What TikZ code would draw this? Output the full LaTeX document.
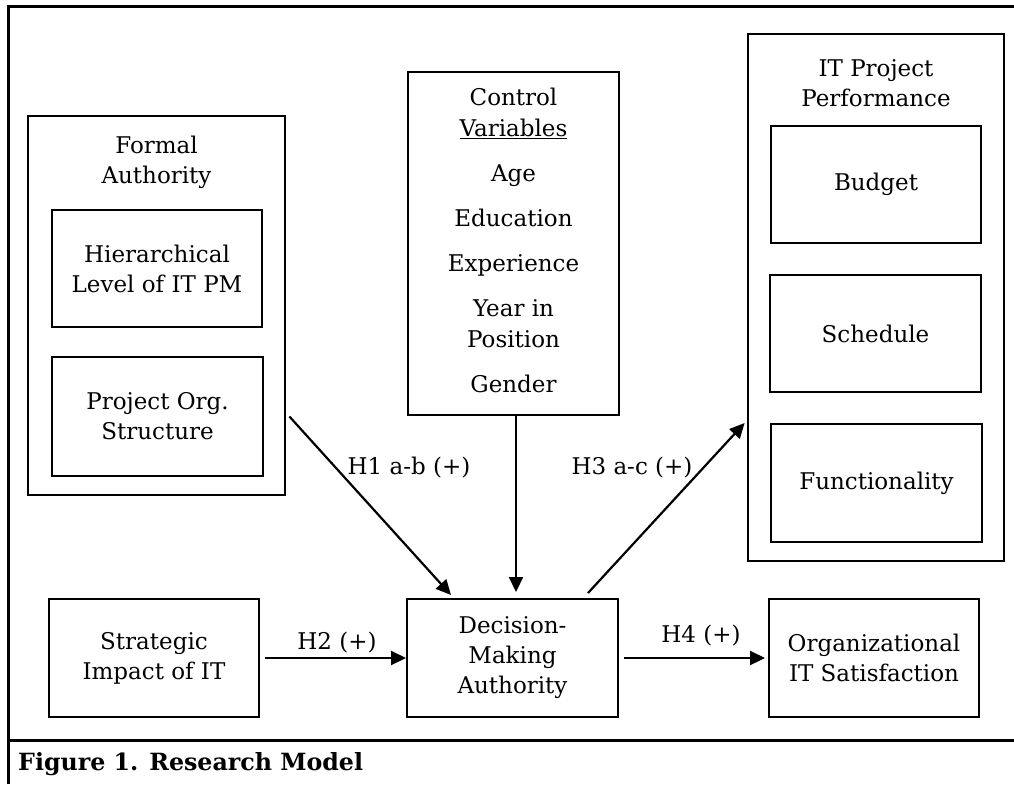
\documentclass[tikz,border=0pt]{standalone}
\usepackage{fontspec}
\setmainfont{DejaVu Serif}
\usetikzlibrary{arrows.meta, calc}

\begin{document}
\begin{tikzpicture}[x=1pt, y=-1pt,
    every node/.style={font=\fontsize{23}{30}\selectfont, align=center, inner sep=0pt},
    outerbox/.style={draw, line width=2.8pt},
    box/.style={draw, line width=2pt},
    hyp/.style={font=\fontsize{23}{30}\selectfont},
    arr/.style={-{Triangle[length=15pt, width=14pt]}, line width=2.2pt}]
      \useasboundingbox (0,0) rectangle (1014,784);

      % frame and caption row
      \draw[line width=3pt] (8,784) -- (8,7) -- (1014,7);
      \draw[line width=3pt] (8,740) -- (1014,740);
      \node[anchor=west, font=\bfseries\fontsize{23.7}{28}\selectfont] (cap) at (18,764) {Figure 1. Research Model};

      % left group
      \node[outerbox, minimum width=257pt, minimum height=379pt] (fa) at (156.5,305.5) {};
      \node (fatitle) at (156.5,162.5) {Formal\\Authority};
      \node[box, minimum width=210pt, minimum height=117pt] (hier) at (157,268.5) {Hierarchical\\Level of IT PM};
      \node[box, minimum width=211pt, minimum height=119pt] (porg) at (157.5,416.5) {Project Org.\\Structure};

      % control variables
      \node[box, minimum width=211pt, minimum height=343pt] (ctrl) at (513.5,243.5) {};
      \node[font=\fontsize{23}{31}\selectfont] (ctrltext) at (513.5,240)
        {Control\\\underline{Variables}\\[14pt] Age\\[14pt] Education\\[14pt] Experience\\[14pt] Year in\\Position\\[14pt] Gender};

      % right group
      \node[outerbox, minimum width=256pt, minimum height=527pt] (perf) at (876,297.5) {};
      \node (perftitle) at (876,83) {IT Project\\Performance};
      \node[box, minimum width=210pt, minimum height=117pt] (bud) at (876,184.5) {Budget};
      \node[box, minimum width=211pt, minimum height=117pt] (sch) at (875.5,333.5) {Schedule};
      \node[box, minimum width=211pt, minimum height=118pt] (fun) at (876.5,483) {Functionality};

      % bottom row
      \node[box, minimum width=210pt, minimum height=118pt] (strat) at (154,658) {Strategic\\Impact of IT};
      \node[box, minimum width=211pt, minimum height=118pt] (dec) at (512.5,658) {Decision-\\Making\\Authority};
      \node[box, minimum width=210pt, minimum height=118pt] (org) at (874,658) {Organizational\\IT Satisfaction};

      \draw[arr] ([xshift=3pt]fa.east |- porg.center) -- ($(dec.north west)+(45,-3)$);
      \draw[arr, shorten >=6pt] ([xshift=2.5pt]ctrl.south) -- ([xshift=2.5pt]ctrl.south |- dec.north);
      \draw[arr] ($(dec.north east)+(-31,-5)$) -- ([xshift=-2pt]perf.west |- fun.north);
      \draw[arr, shorten <=5pt] (strat.east) -- (dec.west);
      \draw[arr, shorten <=5pt, shorten >=3pt] (dec.east) -- (org.west);

      \node[hyp] (h1) at (409,468) {H1 a-b (+)};
      \node[hyp] (h2) at (337,643) {H2 (+)};
      \node[hyp] (h3) at (632,468) {H3 a-c (+)};
      \node[hyp] (h4) at (701,636) {H4 (+)};
    \end{tikzpicture}
\end{document}
